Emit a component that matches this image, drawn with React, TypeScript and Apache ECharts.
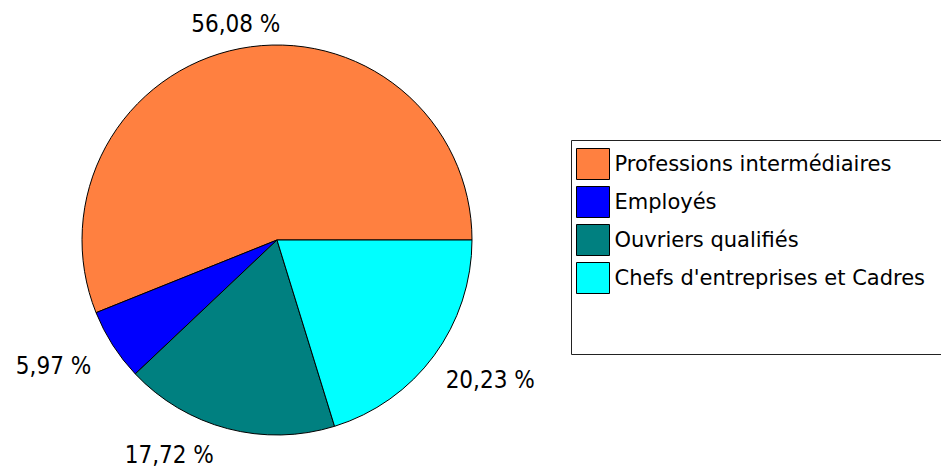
import React, { useEffect, useRef } from "react";
import * as echarts from "echarts";

const categories = [
  "Professions intermédiaires",
  "Employés",
  "Ouvriers qualifiés",
  "Chefs d'entreprises et Cadres",
];
const values = [56.08, 5.97, 17.72, 20.23];
const colors = ["#FF8040", "#0000FF", "#008080", "#00FFFF"];

const LABEL_FONT = "'DejaVu Sans Condensed', 'DejaVu Sans', sans-serif";
const LEGEND_FONT = "'DejaVu Sans', sans-serif";

export default function App() {
  const ref = useRef<HTMLDivElement>(null);
  useEffect(() => {
    if (!ref.current) return;
    const chart = echarts.init(ref.current, null, { renderer: "svg" });
    chart.setOption({
      animation: false,
      backgroundColor: "#ffffff",
      graphic: [
        {
          type: "rect",
          left: 571,
          top: 140,
          shape: { width: 372, height: 214 },
          style: { fill: "#ffffff", stroke: "#222222", lineWidth: 1 },
          z: -1,
        },
      ],
      legend: {
        orient: "vertical",
        left: 576,
        top: 148,
        padding: 0,
        icon: "rect",
        itemWidth: 33,
        itemHeight: 31,
        itemGap: 6,
        selectedMode: false,
        itemStyle: { borderColor: "#000", borderWidth: 1 },
        textStyle: { fontFamily: LEGEND_FONT, fontSize: 21, color: "#000", padding: [0, 0, 0, 0] },
        data: categories,
      },
      series: [
        {
          type: "pie",
          center: [277, 240],
          radius: 195,
          startAngle: 0,
          clockwise: false,
          avoidLabelOverlap: false,
          data: categories.map((c, i) => ({
            name: c,
            value: values[i],
            itemStyle: { color: colors[i] },
          })),
          itemStyle: { borderColor: "#000", borderWidth: 1 },
          label: {
            show: true,
            position: "outside",
            fontFamily: LABEL_FONT,
            fontSize: 24,
            color: "#000",
            distanceToLabelLine: 4,
            formatter: (p: any) => p.value.toFixed(2).replace(".", ",") + " %",
          },
          labelLine: { show: false, length: 22, length2: 0 },
          labelLayout: (p: any) => {
            if (p.dataIndex === 0) return { align: "center", dx: 4, dy: -3 };
            if (p.dataIndex === 1) return { dx: 1, dy: 9 };
            if (p.dataIndex === 3) return { dx: -10, dy: 11 };
            if (p.dataIndex === 2) return { dx: -4, dy: 5 };
            return {};
          },
          emphasis: { disabled: true },
        },
      ],
    });
    return () => chart.dispose();
  }, []);
  return (
    <div
      ref={ref}
      style={{ position: "fixed", left: 0, top: 0, width: 941, height: 471 }}
    />
  );
}
